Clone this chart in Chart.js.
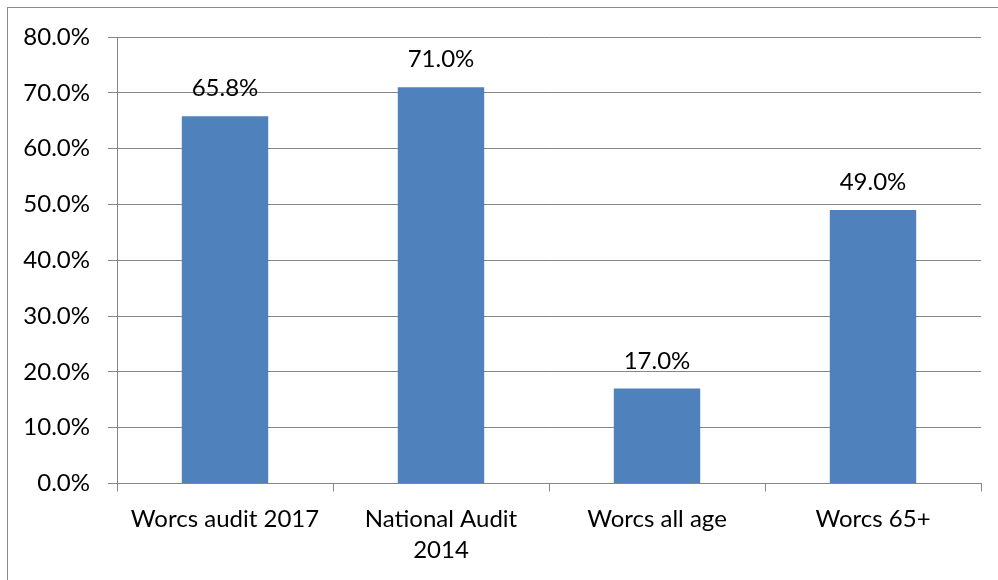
<!DOCTYPE html>
<html>
<head>
<meta charset="utf-8">
<script src="https://cdn.jsdelivr.net/npm/chart.js@4"></script>
<style>
  html, body { margin: 0; padding: 0; background: #fff; }
  #wrap { position: relative; width: 998px; height: 580px; overflow: hidden; }
  #frame { position: absolute; left: 7px; top: 7px; width: 1200px; height: 800px;
           border: 1px solid #8a8a8a; box-sizing: border-box; }
  canvas { position: absolute; left: 0; top: 0; }
</style>
</head>
<body>
<div id="wrap">
  <div id="frame"></div>
  <canvas id="c" width="998" height="580"></canvas>
</div>
<script>
// Categories and values (percent)
const categories = ['Worcs audit 2017', ['National Audit', '2014'], 'Worcs all age', 'Worcs 65+'];
const values = [65.8, 71.0, 17.0, 49.0];
const yTicks = [0, 10, 20, 30, 40, 50, 60, 70, 80];

const FONT = 'Lato';
const GRID = '#868686';

// Value labels above each bar
const valueLabels = {
  id: 'valueLabels',
  afterDatasetsDraw(chart) {
    const ctx = chart.ctx;
    const meta = chart.getDatasetMeta(0);
    ctx.save();
    ctx.font = '24px ' + FONT;
    ctx.fillStyle = '#000';
    ctx.textAlign = 'center';
    ctx.textBaseline = 'alphabetic';
    meta.data.forEach((bar, i) => {
      ctx.fillText(values[i].toFixed(1) + '%', bar.x, bar.y - 20);
    });
    ctx.restore();
  }
};

new Chart(document.getElementById('c'), {
  type: 'bar',
  data: {
    labels: categories,
    datasets: [{
      data: values,
      backgroundColor: '#4F81BD',
      borderWidth: 0,
      barPercentage: 0.4,
      categoryPercentage: 1.0
    }]
  },
  options: {
    responsive: false,
    animation: false,
    devicePixelRatio: 1,
    layout: { padding: { left: 0, right: 17, top: 37, bottom: 0 } },
    plugins: { legend: { display: false }, tooltip: { enabled: false } },
    scales: {
      x: {
        offset: true,
        grid: { offset: true, drawOnChartArea: false, drawTicks: true, tickLength: 8, color: GRID, lineWidth: 1 },
        border: { color: GRID, width: 1 },
        ticks: { color: '#000', font: { family: FONT, size: 24, lineHeight: 1.31 }, padding: 12, maxRotation: 0, autoSkip: false },
        afterFit(scale) { scale.height = 96.5; }
      },
      y: {
        min: 0, max: 80,
        afterBuildTicks(scale) { scale.ticks = yTicks.map(v => ({ value: v })); },
        grid: { color: GRID, lineWidth: 1, tickLength: 9 },
        border: { color: GRID, width: 1 },
        ticks: { color: '#000', font: { family: FONT, size: 24 }, padding: 18,
                 callback: v => v.toFixed(1) + '%' },
        afterFit(scale) { scale.width = 117; }
      }
    }
  },
  plugins: [valueLabels]
});
</script>
</body>
</html>
